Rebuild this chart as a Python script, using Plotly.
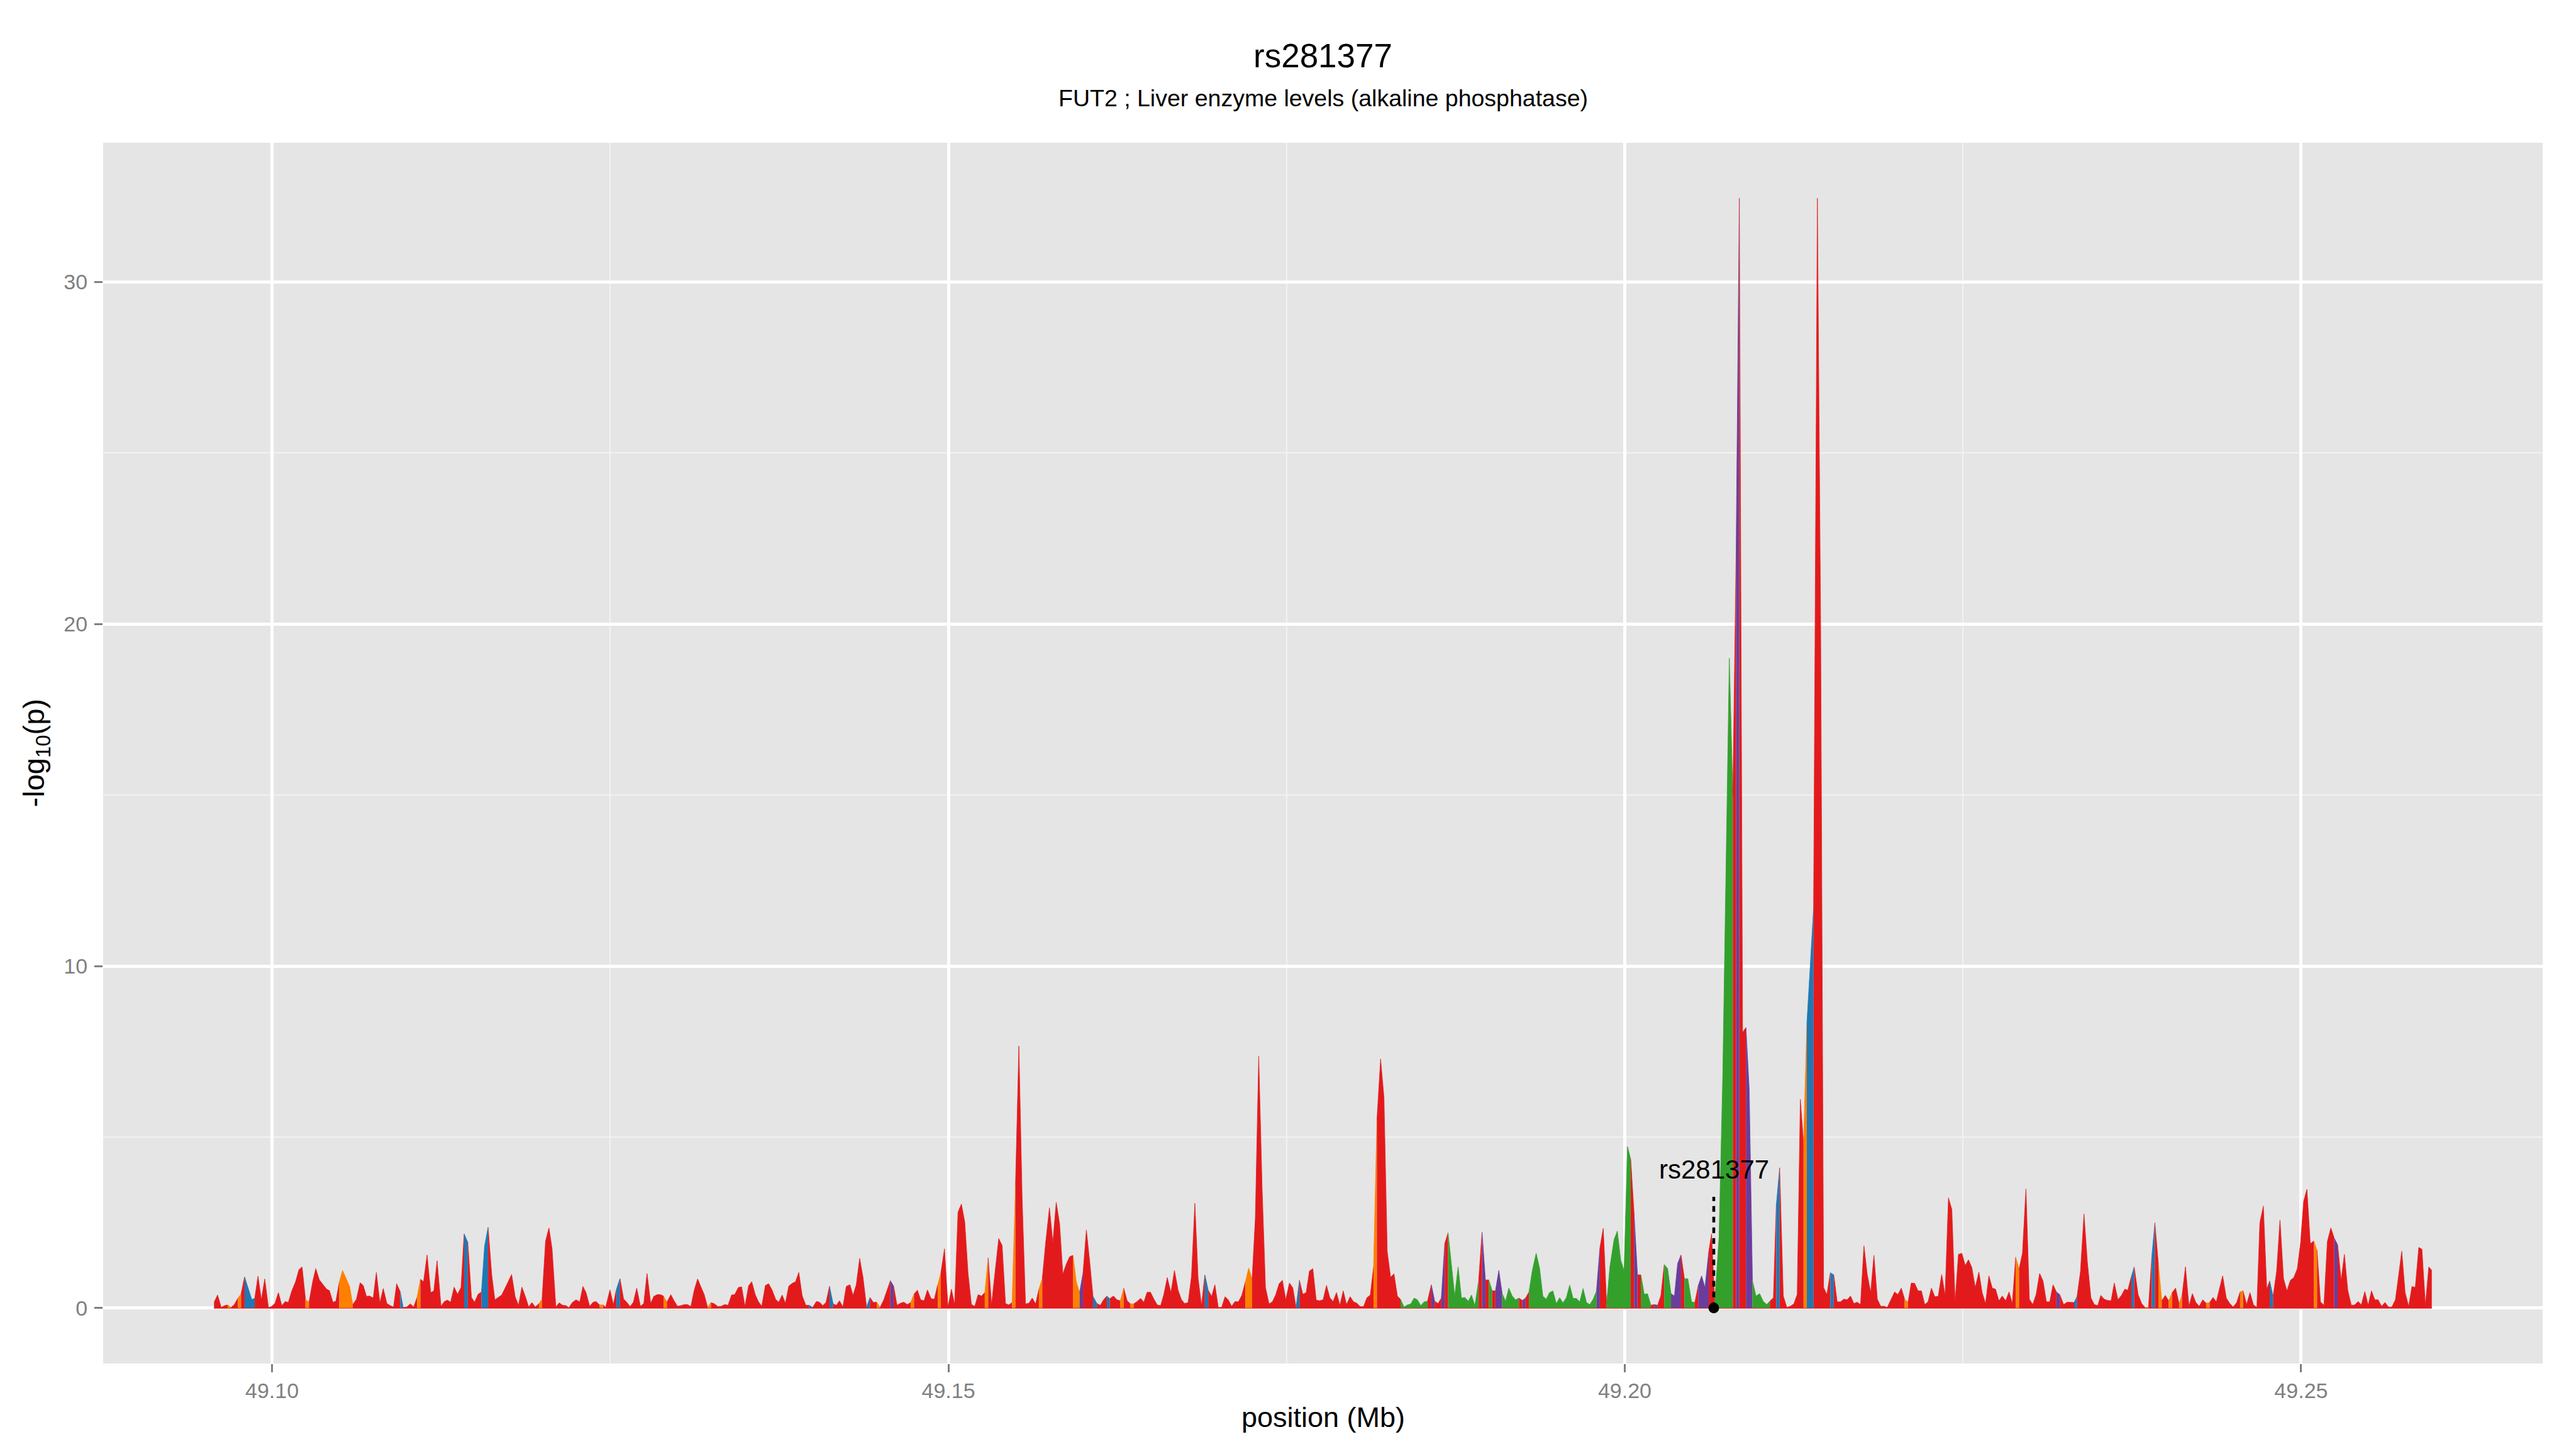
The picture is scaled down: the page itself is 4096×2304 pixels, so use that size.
import plotly.graph_objects as go

# ---------------- data (positions in kb after 49,000 kb; values = -log10 p) ----------------
pos_a = [95.71, 95.97, 96.24, 96.50, 96.72, 96.98, 97.21, 97.48, 97.71, 97.97,
         98.27, 98.50, 98.72, 98.96, 99.21, 99.46, 99.73, 99.96, 100.22, 100.47,
         100.72, 100.98, 101.20, 101.46, 101.73, 101.99, 102.22, 102.47, 102.73, 103.00,
         103.23, 103.50, 103.76, 104.03, 104.24, 104.50, 104.72, 104.97, 105.21, 105.48,
         105.73, 105.97, 106.24, 106.51, 106.74, 106.98, 107.21, 107.48, 107.71, 107.97,
         108.22, 108.49, 108.74, 108.98, 109.21, 109.48, 109.69, 109.96, 110.22, 110.47,
         110.72, 110.97, 111.20, 111.46, 111.73, 111.96, 112.20, 112.49, 112.74, 112.97,
         113.20, 113.46, 113.71, 113.97, 114.20, 114.47, 114.74, 114.97, 115.23, 115.48,
         115.71, 115.97, 116.24, 116.47, 116.72, 116.98, 117.25, 117.71, 117.97, 118.22,
         118.47, 118.72, 118.97, 119.21, 119.46, 119.73, 119.96, 120.22, 120.47, 120.70,
         120.98, 121.23, 121.48, 121.73, 121.94, 122.20, 122.47, 122.75]
p_a = [0.16, 0.38, 0.02, 0.07, 0.09, 0.02, 0.10, 0.29, 0.41, 0.91,
       0.52, 0.25, 0.28, 0.93, 0.24, 0.85, 0.02, 0.04, 0.14, 0.45,
       0.07, 0.19, 0.16, 0.50, 0.76, 1.12, 1.20, 0.26, 0.16, 0.76,
       1.15, 0.82, 0.69, 0.55, 0.51, 0.17, 0.20, 0.76, 1.10, 0.86,
       0.63, 0.10, 0.26, 0.74, 0.66, 0.34, 0.35, 0.29, 1.04, 0.15,
       0.57, 0.13, 0.07, 0.03, 0.71, 0.47, 0.02, 0.03, 0.12, 0.03,
       0.31, 0.84, 0.77, 1.55, 0.45, 0.50, 1.38, 0.05, 0.19, 0.23,
       0.17, 0.61, 0.40, 0.60, 2.17, 1.92, 0.31, 0.17, 0.40, 0.47,
       1.81, 2.36, 0.97, 0.24, 0.31, 0.38, 0.60, 0.98, 0.33, 0.08,
       0.61, 0.34, 0.03, 0.16, 0.03, 0.13, 0.26, 1.96, 2.34, 1.73,
       0.03, 0.15, 0.08, 0.07, 0.01, 0.16, 0.24, 0.18]
cls_a = ("RRRRORRORB" "BBRRRRRRRR" "RRRRRRRORR" "RRRRRRROOO" "ORRRRRRRRR"
         "RRRRRBRRRR" "ORRRRRRRRR" "RRRRBRRRRB" "BRRRRRRRRR" "RRRRRORRRR" "RRRRRRRR")

pos_b = [122.98, 123.21, 123.48, 123.74, 123.95, 124.22, 124.48, 124.66, 124.98, 125.23,
         125.46, 125.72, 125.99, 126.22, 126.47, 126.71, 126.96, 127.23, 127.48, 127.72,
         127.99, 128.22, 128.47, 128.70, 128.94, 129.19, 129.48, 129.72, 129.97, 130.24,
         130.47, 130.71, 130.96, 131.21, 131.46, 131.71, 131.95, 132.20, 132.45, 132.71,
         132.96, 133.21, 133.46, 133.71, 133.97, 134.20, 134.47, 134.71, 134.96, 135.23,
         135.46, 135.72, 135.95, 136.20, 136.47, 136.71, 136.96, 137.23, 137.46, 137.71,
         137.95, 138.20, 138.45, 138.70, 138.94, 139.19, 139.46, 139.71, 139.97, 140.24,
         140.47, 140.71, 140.95, 141.21, 141.48, 141.71, 141.95, 142.20, 142.45, 142.72,
         142.95, 143.19, 143.44, 143.69, 143.95, 144.20, 144.45, 144.70, 144.95, 145.21,
         145.46, 145.71, 145.95, 146.20, 146.45, 146.70, 146.96, 147.21, 147.46, 147.71,
         147.95, 148.20, 148.45, 148.72, 148.96, 149.21, 149.44, 149.71, 149.97]
p_b = [0.63, 0.45, 0.05, 0.17, 0.19, 0.09, 0.09, 0.02, 0.53, 0.10,
       0.55, 0.86, 0.26, 0.17, 0.04, 0.17, 0.58, 0.05, 0.13, 1.01,
       0.13, 0.34, 0.39, 0.39, 0.35, 0.17, 0.39, 0.21, 0.05, 0.07,
       0.10, 0.10, 0.04, 0.52, 0.85, 0.61, 0.39, 0.02, 0.16, 0.12,
       0.04, 0.05, 0.10, 0.08, 0.38, 0.39, 0.60, 0.62, 0.05, 0.65,
       0.77, 0.39, 0.19, 0.05, 0.66, 0.71, 0.53, 0.25, 0.17, 0.38,
       0.14, 0.64, 0.72, 0.77, 1.04, 0.36, 0.08, 0.08, 0.02, 0.19,
       0.17, 0.07, 0.16, 0.64, 0.12, 0.08, 0.21, 0.03, 0.63, 0.68,
       0.37, 0.68, 1.45, 0.89, 0.02, 0.31, 0.16, 0.17, 0.02, 0.23,
       0.51, 0.80, 0.64, 0.08, 0.14, 0.17, 0.10, 0.16, 0.41, 0.52,
       0.24, 0.21, 0.53, 0.27, 0.26, 0.68, 1.02, 1.73, 0.03]
cls_b = ("RRRRRORRRR" "BRRRRRRRRR" "RRRRORRRRR" "RRRRRRRORR" "RRRRRRRRRR"
         "RRRRRRRRRR" "RRRRRRRBRR" "RRRBRRRRRR" "RRRRBRRORR" "RPRRRRRORR" "RRRRRORRR")

pos_c = [150.22, 150.46, 150.71, 150.96, 151.21, 151.45, 151.70, 151.95, 152.20, 152.45,
         152.69, 152.94, 153.19, 153.44, 153.72, 153.97, 154.22, 154.46, 154.71, 154.96,
         155.21, 155.45, 155.70, 155.95, 156.20, 156.45, 156.69, 156.94, 157.19, 157.47,
         157.72, 157.97, 158.22, 158.46, 158.71, 158.96, 159.21, 159.46, 159.70, 159.95,
         160.20, 160.45, 160.69, 160.98, 161.23, 161.47, 161.72, 161.93, 162.20, 162.46,
         162.71, 162.96, 163.21, 163.46, 163.70, 163.95, 164.20, 164.45, 164.69, 164.94,
         165.19, 165.44, 165.69, 165.93, 166.18, 166.45, 166.71, 166.98, 167.23, 167.47,
         167.72, 167.97, 168.22, 168.46, 168.71, 168.96, 169.21, 169.46, 169.70, 169.95,
         170.20, 170.45, 170.69, 170.94, 171.19, 171.44, 171.69, 171.95, 172.20, 172.45,
         172.69, 172.94, 173.19, 173.44, 173.70, 173.95, 174.20, 174.45, 174.69, 174.94,
         175.21, 175.46, 175.70, 175.95, 176.20, 176.45, 176.69, 176.94, 177.19, 177.44]
p_c = [0.55, 0.10, 2.80, 3.04, 2.51, 1.02, 0.10, 0.05, 0.39, 0.35,
       0.45, 1.47, 0.09, 1.02, 2.03, 1.83, 0.13, 0.09, 0.16, 3.60,
       7.66, 3.20, 0.12, 0.14, 0.29, 0.12, 0.55, 0.86, 1.91, 2.93,
       1.91, 3.09, 2.46, 0.99, 1.28, 1.50, 1.54, 0.76, 0.45, 1.02,
       2.28, 1.34, 0.34, 0.13, 0.08, 0.24, 0.35, 0.27, 0.35, 0.24,
       0.21, 0.58, 0.21, 0.12, 0.12, 0.19, 0.28, 0.17, 0.46, 0.46,
       0.26, 0.09, 0.07, 0.40, 0.89, 0.45, 1.10, 0.52, 0.24, 0.13,
       0.16, 0.92, 3.06, 0.86, 0.08, 0.97, 0.52, 0.34, 0.68, 0.02,
       0.02, 0.33, 0.24, 0.05, 0.19, 0.18, 0.37, 0.76, 1.17, 0.84,
       2.62, 7.36, 3.50, 0.60, 0.12, 0.18, 0.39, 0.71, 0.81, 0.24,
       0.73, 0.59, 0.02, 0.81, 0.40, 0.45, 1.08, 1.15, 0.23, 0.21]
cls_c = ("RRRRRRRRRR" "ORRRRRRROR" "RRRRRRORRR" "RRRRRROOPR" "RRBRRRBRRR"
         "ORRORRRRRR" "RRRRRRRRRR" "RRRRRBRRRR" "RRRRRRROOR" "RRRRRRRRRR" "RRBRRRRRRR")

pos_d = [177.70, 177.95, 178.20, 178.44, 178.69, 178.94, 179.19, 179.43, 179.70, 179.95,
         180.20, 180.44, 180.69, 180.94, 181.19, 181.43, 181.68, 181.95, 182.20, 182.44,
         182.69, 182.94, 183.19, 183.43, 183.68, 183.93, 184.18, 184.43, 184.67, 184.92,
         185.17, 185.42, 185.70, 185.95, 186.20, 186.44, 186.69, 186.94, 187.19, 187.43,
         187.68, 187.93, 188.18, 188.43, 188.67, 188.92, 189.20, 189.45, 189.70, 189.95,
         190.20, 190.44, 190.69, 190.94, 191.19, 191.43, 191.68, 191.93, 192.18, 192.43,
         192.67, 192.92, 193.17, 193.45, 193.70, 193.95, 194.20, 194.44, 194.69, 194.94,
         195.19, 195.43, 195.68, 195.93, 196.18, 196.43, 196.67, 196.92, 197.17, 197.42,
         197.67, 197.91, 198.16, 198.41, 198.66, 198.90, 199.21, 199.45, 199.70, 199.95,
         200.20, 200.44, 200.69, 200.94, 201.19, 201.44, 201.68, 201.93, 202.18, 202.43,
         202.67, 202.92, 203.17, 203.42, 203.67, 203.91, 204.16, 204.41, 204.66]
p_d = [0.24, 0.66, 0.30, 0.19, 0.45, 0.08, 0.50, 0.10, 0.33, 0.18,
       0.14, 0.04, 0.04, 0.30, 0.38, 1.20, 5.50, 7.28, 6.15, 1.65,
       0.90, 1.00, 0.35, 0.25, 0.03, 0.09, 0.12, 0.29, 0.24, 0.07,
       0.18, 0.20, 0.68, 0.20, 0.13, 0.29, 1.88, 2.20, 1.20, 0.35,
       1.20, 0.29, 0.31, 0.20, 0.38, 0.07, 0.80, 2.22, 0.82, 0.82,
       0.50, 0.50, 1.10, 0.42, 0.20, 0.58, 0.35, 0.24, 0.29, 0.22,
       0.29, 0.47, 1.10, 1.60, 1.17, 0.34, 0.26, 0.45, 0.50, 0.13,
       0.30, 0.15, 0.30, 0.67, 0.28, 0.28, 0.18, 0.57, 0.16, 0.10,
       0.26, 0.50, 1.75, 2.33, 0.12, 1.20, 2.00, 2.25, 1.40, 1.10,
       4.72, 4.35, 2.76, 0.97, 0.97, 0.40, 0.42, 0.08, 0.10, 0.08,
       0.36, 1.27, 1.15, 0.42, 0.35, 1.30, 1.55, 0.85, 0.86]
cls_d = ("RRRRRRRRRR" "RRRRRORRRR" "RRRGGGGGGG" "GRPRRPRGGG" "GGGGGGRPRG"
         "RPPGGGGGRP" "RGGGGGGGGG" "GGGGGGGGGG" "GPRRGGGGGG" "GRPRGGGRPR" "RGGPPPRGG")

pos_e = [204.94, 205.18, 205.43, 205.68, 205.93, 206.21, 206.42, 206.65, 206.97, 207.24,
         207.50, 207.73, 207.99, 208.23, 208.47, 208.71, 208.96, 209.20, 209.44, 209.70,
         209.97, 210.23, 210.49, 210.73, 210.99, 211.20, 211.45, 211.72, 211.98, 212.24,
         212.50, 212.75, 212.98, 213.22, 213.46, 213.72, 213.96, 214.24, 214.48, 214.70]
p_e = [0.18, 0.16, 0.65, 0.94, 0.60, 1.65, 2.17, 0.20, 2.07, 6.70,
       13.6, 19.0, 15.0, 22.0, 32.45, 8.06, 8.20, 6.40, 0.80, 0.35,
       0.42, 0.20, 0.10, 0.20, 0.30, 3.00, 4.10, 0.35, 0.02, 0.05,
       0.12, 0.40, 6.10, 4.80, 8.30, 10.10, 11.70, 32.45, 20.0, 0.60]
cls_e = "GRPPPRRGGG" "GGRPRRPPGG" "GGGRRBRRRR" "RRROBBRRRR"

pos_f = [214.94, 215.20, 215.45, 215.70, 215.95, 216.19, 216.44, 216.69, 216.94, 217.18,
         217.43, 217.68, 217.93, 218.18, 218.42, 218.67, 218.92, 219.17, 219.41, 219.66,
         219.95, 220.19, 220.44, 220.69, 220.94, 221.18, 221.43, 221.68, 221.93, 222.18,
         222.42, 222.67, 222.92, 223.17, 223.43, 223.68, 223.93, 224.18, 224.42, 224.67,
         224.92, 225.17, 225.41, 225.66, 225.91, 226.18, 226.42, 226.67, 226.92, 227.17,
         227.41, 227.66, 227.91, 228.16, 228.41, 228.65, 228.90, 229.15, 229.40, 229.66,
         229.91, 230.16, 230.41, 230.67, 230.92, 231.17, 231.42, 231.66, 231.91, 232.16]
p_f = [0.39, 1.03, 0.97, 0.18, 0.18, 0.26, 0.24, 0.35, 0.13, 0.17,
       0.10, 1.82, 0.97, 0.45, 1.54, 0.26, 0.05, 0.05, 0.02, 0.24,
       0.47, 0.39, 0.58, 0.26, 0.16, 0.73, 0.72, 0.50, 0.50, 0.10,
       0.18, 0.58, 0.33, 0.34, 0.98, 0.37, 3.22, 2.88, 0.18, 1.57,
       1.60, 1.24, 1.41, 1.18, 0.60, 1.05, 0.45, 0.13, 0.94, 0.58,
       0.55, 0.21, 0.35, 0.21, 0.47, 0.13, 1.49, 1.13, 1.60, 3.48,
       0.26, 0.10, 0.39, 1.01, 0.79, 0.18, 0.18, 0.68, 0.47, 0.39]
cls_f = ("RBRRRRRRRR" "RRRRRRRRRR" "RRRORRRRRR" "RRRRRRRRRR" "RRRRRRRRRR"
         "RRRRRRORRR" "RRRRRRRRPR")

pos_g = [232.44, 232.71, 232.98, 233.22, 233.44, 233.69, 233.95, 234.20, 234.46, 234.71,
         234.97, 235.19, 235.44, 235.70, 235.95, 236.19, 236.46, 236.72, 236.97, 237.19,
         237.45, 237.66, 237.95, 238.21, 238.46, 238.72, 238.96, 239.19, 239.45, 239.70,
         239.96, 240.21, 240.47, 240.72, 240.98, 241.20, 241.45, 241.71, 241.96, 242.22,
         242.47, 242.73, 242.98, 243.24, 243.49, 243.73, 243.96, 244.20, 244.47, 244.73,
         244.98, 245.24, 245.49, 245.71, 245.97, 246.22, 246.48, 246.73, 246.95, 247.21,
         247.46, 247.68, 247.93, 248.19, 248.44, 248.70, 248.95, 249.21, 249.46, 249.72,
         249.96, 250.19, 250.43, 250.68, 250.94, 251.18, 251.43, 251.69, 251.94, 252.20,
         252.45, 252.70, 252.96, 253.20, 253.45, 253.71, 253.96, 254.22, 254.45, 254.71,
         254.96, 255.20, 255.45, 255.69, 255.95, 256.20, 256.46, 256.71, 256.97, 257.20,
         257.44, 257.69, 257.95, 258.20, 258.44, 258.70, 258.93, 259.19, 259.44, 259.66]
p_g = [0.10, 0.17, 0.16, 0.16, 0.34, 1.07, 2.75, 1.34, 0.30, 0.10,
       0.07, 0.37, 0.26, 0.22, 0.21, 0.73, 0.24, 0.37, 0.55, 0.52,
       0.92, 1.20, 0.39, 0.13, 0.02, 0.03, 1.49, 2.49, 1.28, 0.21,
       0.37, 0.21, 0.45, 0.58, 0.13, 0.37, 1.20, 0.05, 0.42, 0.16,
       0.05, 0.24, 0.14, 0.16, 0.31, 0.18, 0.55, 0.94, 0.29, 0.13,
       0.03, 0.16, 0.47, 0.50, 0.10, 0.45, 0.09, 0.02, 2.49, 2.98,
       0.55, 0.79, 0.34, 1.07, 2.57, 0.86, 0.50, 0.81, 0.89, 1.15,
       1.91, 3.12, 3.47, 1.88, 1.96, 1.68, 0.18, 0.08, 1.94, 2.34,
       2.04, 1.85, 0.81, 1.57, 0.52, 0.08, 0.09, 0.19, 0.09, 0.48,
       0.08, 0.50, 0.24, 0.24, 0.05, 0.16, 0.03, 0.03, 0.24, 0.92,
       1.66, 0.45, 0.05, 0.63, 0.60, 1.77, 1.72, 0.08, 1.20, 1.10]
cls_g = ("RRRBRRRRRR" "RRRRRRRRRR" "BRRRORBROR" "RORRORRRRR" "RRORRRRRRR"
         "RRORRRRRRR" "RBRRRRRRRR" "RRRRORRRRR" "PRRRRRRRRR" "RRRRRRRRRR" "RRRRRRRRRR")

snp_name = "rs281377"
snp_pos_kb = 206.58
snp_line_top = 3.25
snp_label_y = 4.05

title = "rs281377"
subtitle = "FUT2 ; Liver enzyme levels (alkaline phosphatase)"
x_ticks = [49.10, 49.15, 49.20, 49.25]
x_minor = [49.075, 49.125, 49.175, 49.225]
y_ticks = [0, 10, 20, 30]
y_minor = [5, 15, 25]

COLORS = {"R": "#E31A1C", "G": "#33A02C", "B": "#1F78B4", "P": "#6A3D9A", "O": "#FF7F00"}

# ---------------- assemble ----------------
pos, val, cls = [], [], []
for ps, vs, cs in [(pos_a, p_a, cls_a), (pos_b, p_b, cls_b), (pos_c, p_c, cls_c),
                   (pos_d, p_d, cls_d), (pos_e, p_e, cls_e), (pos_f, p_f, cls_f),
                   (pos_g, p_g, cls_g)]:
    n = min(len(ps), len(vs), len(cs))
    pos += ps[:n]
    val += vs[:n]
    cls += list(cs[:n])

x = [49.0 + k / 1000.0 for k in pos]
N = len(x)

fig = go.Figure()

# baseline outline
fig.add_trace(go.Scatter(x=[x[0], x[-1]], y=[0, 0], mode="lines",
                         line=dict(color=COLORS["R"], width=2),
                         hoverinfo="skip", showlegend=False))

i = 0
while i < N:
    j = i
    while j + 1 < N and cls[j + 1] == cls[i]:
        j += 1
    end = min(j + 2, N)
    c = COLORS[cls[i]]
    fig.add_trace(go.Scatter(x=x[i:end], y=val[i:end], mode="lines",
                             line=dict(width=0.8, color=c), fill="tozeroy",
                             fillcolor=c, hoverinfo="skip", showlegend=False))
    i = j + 1

snp_x = 49.0 + snp_pos_kb / 1000.0
fig.add_trace(go.Scatter(x=[snp_x, snp_x], y=[0, snp_line_top], mode="lines",
                         line=dict(color="black", width=4.5, dash="9px,8px"),
                         hoverinfo="skip", showlegend=False))
fig.add_trace(go.Scatter(x=[snp_x], y=[0], mode="markers",
                         marker=dict(color="black", size=17),
                         hoverinfo="skip", showlegend=False))

xmin, xmax = min(x), max(x)
xpad = 0.05 * (xmax - xmin)
ymax = max(val)
ypad = 0.05 * ymax

FONT = "Liberation Sans, Arial, Helvetica, sans-serif"
GRAY = "#7F7F7F"

# The page body has an 8px default margin, so the figure is 8px smaller
# and margins are reduced so that the panel lands where it should.
fig.update_layout(
    width=4088, height=2296,
    margin=dict(l=156, r=53, t=219, b=136),
    paper_bgcolor="white", plot_bgcolor="#E5E5E5",
    font=dict(family=FONT, color="black"),
    showlegend=False,
    xaxis=dict(range=[xmin - xpad, xmax + xpad], tickmode="array", tickvals=x_ticks,
               ticktext=["%.2f" % v for v in x_ticks],
               showgrid=True, gridcolor="white", gridwidth=4.5,
               minor=dict(tickmode="array", tickvals=x_minor, showgrid=True,
                          gridcolor="#F2F2F2", gridwidth=2, ticks=""),
               ticks="outside", ticklen=13, tickwidth=2.5, tickcolor=GRAY,
               tickfont=dict(size=34, color=GRAY, family=FONT),
               zeroline=False, showline=False),
    yaxis=dict(range=[-ypad, ymax + ypad], tickmode="array", tickvals=y_ticks,
               ticktext=[str(v) for v in y_ticks],
               showgrid=True, gridcolor="white", gridwidth=4.5,
               minor=dict(tickmode="array", tickvals=y_minor, showgrid=True,
                          gridcolor="#F2F2F2", gridwidth=2, ticks=""),
               ticks="outside", ticklen=13, tickwidth=2.5, tickcolor=GRAY,
               ticklabelstandoff=4,
               tickfont=dict(size=34, color=GRAY, family=FONT),
               zeroline=False, showline=False),
    annotations=[
        dict(text=title, x=0.5, y=1.0716, xref="paper", yref="paper",
             showarrow=False, xanchor="center", yanchor="middle",
             font=dict(size=53, color="black", family=FONT)),
        dict(text=subtitle, x=0.5, y=1.0366, xref="paper", yref="paper",
             showarrow=False, xanchor="center", yanchor="middle",
             font=dict(size=37.5, color="black", family=FONT)),
        dict(text="position (Mb)", x=0.5, y=-0.0443, xref="paper", yref="paper",
             showarrow=False, xanchor="center", yanchor="middle",
             font=dict(size=45, color="black", family=FONT)),
        dict(text="-log<sub>10</sub>(p)", x=-0.0276, y=0.5, xref="paper", yref="paper",
             showarrow=False, xanchor="center", yanchor="middle", textangle=-90,
             font=dict(size=47, color="black", family=FONT)),
        dict(text=snp_name, x=snp_x, y=snp_label_y, xref="x", yref="y",
             showarrow=False, xanchor="center", yanchor="middle",
             font=dict(size=42, color="black", family=FONT)),
    ],
)

fig.write_html("out.html")
